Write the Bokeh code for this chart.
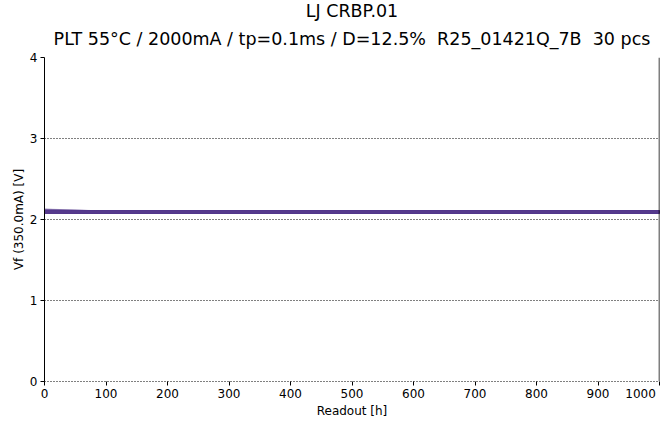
from bokeh.plotting import figure
from bokeh.models import Title, Span, FixedTicker, Range1d
from bokeh.embed import file_html
from bokeh.resources import INLINE

NB = "\u00a0"
title_line1 = "LJ CRBP.01"
title_line2 = "PLT 55°C / 2000mA / tp=0.1ms / D=12.5%" + NB * 2 + "R25_01421Q_7B" + NB * 2 + "30 pcs"
x_label = "Readout [h]"
y_label = "Vf (350.0mA) [V]"

readouts = [0, 96, 168, 500, 1000]
x_ticks = [0, 100, 200, 300, 400, 500, 600, 700, 800, 900, 1000]
y_ticks = [0, 1, 2, 3, 4]

# Vf per device (30 pcs) at each readout
vf_series = [
    [2.118, 2.094, 2.094, 2.094, 2.094],
    [2.115, 2.093, 2.093, 2.093, 2.093],
    [2.112, 2.095, 2.095, 2.095, 2.095],
    [2.101, 2.092, 2.092, 2.092, 2.092],
    [2.099, 2.094, 2.094, 2.094, 2.094],
    [2.097, 2.091, 2.091, 2.091, 2.091],
    [2.098, 2.096, 2.096, 2.096, 2.096],
    [2.096, 2.093, 2.093, 2.093, 2.093],
    [2.095, 2.092, 2.092, 2.092, 2.092],
    [2.097, 2.094, 2.094, 2.094, 2.094],
    [2.094, 2.090, 2.090, 2.090, 2.090],
    [2.096, 2.095, 2.095, 2.095, 2.095],
    [2.095, 2.093, 2.093, 2.093, 2.093],
    [2.098, 2.097, 2.097, 2.097, 2.097],
    [2.093, 2.091, 2.091, 2.091, 2.091],
    [2.095, 2.094, 2.094, 2.094, 2.094],
    [2.094, 2.092, 2.092, 2.092, 2.092],
    [2.096, 2.093, 2.093, 2.093, 2.093],
    [2.093, 2.089, 2.089, 2.089, 2.089],
    [2.095, 2.095, 2.095, 2.095, 2.095],
    [2.097, 2.096, 2.096, 2.096, 2.096],
    [2.094, 2.093, 2.093, 2.093, 2.093],
    [2.092, 2.090, 2.090, 2.090, 2.090],
    [2.096, 2.094, 2.094, 2.094, 2.094],
    [2.095, 2.092, 2.092, 2.092, 2.092],
    [2.094, 2.091, 2.091, 2.091, 2.091],
    [2.097, 2.095, 2.095, 2.095, 2.095],
    [2.093, 2.092, 2.092, 2.092, 2.092],
    [2.096, 2.093, 2.093, 2.093, 2.093],
    [2.095, 2.094, 2.094, 2.094, 2.094],
]

FONT = "DejaVu Sans"
LINE_COLOR = "#553a8c"
TEXT_COLOR = "black"

p = figure(width=663, height=420, output_backend="svg", toolbar_location=None,
           x_range=Range1d(0, 1000), y_range=Range1d(0, 4),
           min_border_left=44, min_border_right=4, min_border_top=0, min_border_bottom=0)

p.title.text = title_line1
p.title.align = "center"
p.title.text_font = FONT
p.title.text_font_size = "17.5px"
p.title.text_font_style = "normal"
p.title.text_color = TEXT_COLOR
p.title.standoff = -4
p.add_layout(Title(text=title_line2, align="center", text_font=FONT, text_color=TEXT_COLOR,
                   text_font_size="17.5px", text_font_style="normal", standoff=17), "above")

for ys in vf_series:
    p.line(readouts, ys, line_color=LINE_COLOR, line_width=3, line_alpha=0.4)

p.xgrid.grid_line_color = None
p.ygrid.grid_line_color = "black"
p.ygrid.grid_line_dash = "1 2"
p.ygrid.grid_line_width = 1
p.outline_line_color = None
p.background_fill_color = "white"
p.border_fill_color = "white"

p.xaxis.ticker = FixedTicker(ticks=x_ticks)
p.yaxis.ticker = FixedTicker(ticks=y_ticks)
p.xaxis.major_label_overrides = {1000: "1000" + NB * 2}
for ax in (p.xaxis, p.yaxis):
    ax.major_label_text_font = FONT
    ax.major_label_text_font_size = "12px"
    ax.major_label_text_color = TEXT_COLOR
    ax.axis_label_text_font = FONT
    ax.axis_label_text_font_size = "12px"
    ax.axis_label_text_font_style = "normal"
    ax.axis_label_text_color = TEXT_COLOR
    ax.major_tick_out = 4
    ax.major_tick_in = 0
    ax.minor_tick_out = 0
    ax.minor_tick_in = 0
    ax.major_tick_line_color = "black"
    ax.major_label_standoff = 3
p.xaxis.axis_label = x_label
p.yaxis.axis_label = y_label
p.xaxis.axis_line_color = "black"
p.xaxis.axis_line_dash = "1 2"
p.yaxis.axis_line_color = "black"
p.xaxis.axis_label_standoff = 0
p.xaxis.major_label_standoff = 1
p.yaxis.axis_label_standoff = 1

p.add_layout(Span(location=1000, dimension="height", line_color="black", line_width=1.5))

open("out.html", "w").write(file_html(p, INLINE))
